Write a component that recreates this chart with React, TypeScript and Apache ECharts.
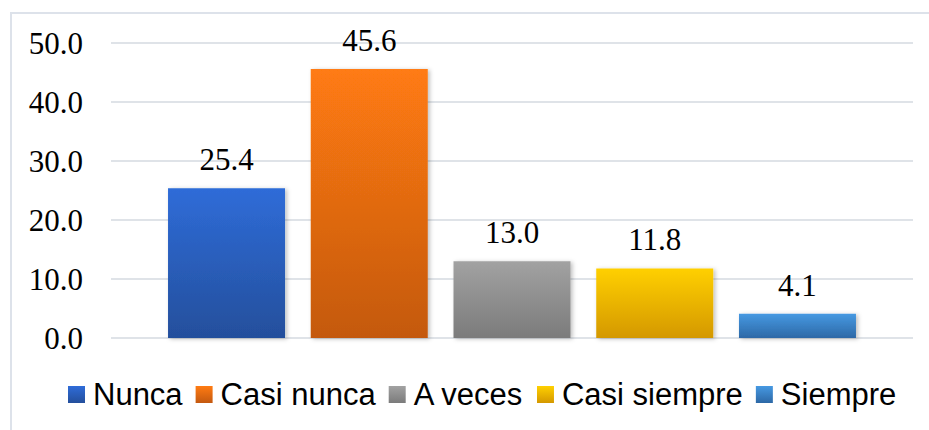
import React, { useEffect, useRef } from "react";
import * as echarts from "echarts";

const categories = [""];
const seriesNames = ["Nunca", "Casi nunca", "A veces", "Casi siempre", "Siempre"];
const seriesValues = [25.4, 45.6, 13.0, 11.8, 4.1];
const yTicks = [0, 10, 20, 30, 40, 50];
const topColors = ["#2f6cd8", "#ff7b12", "#a2a2a2", "#ffd000", "#4699e2"];
const bottomColors = ["#244f9c", "#c45910", "#7b7b7b", "#d49800", "#2d68a6"];

const grad = (i: number) =>
  new echarts.graphic.LinearGradient(0, 0, 0, 1, [
    { offset: 0, color: topColors[i] },
    { offset: 1, color: bottomColors[i] },
  ]);

export default function App() {
  const ref = useRef<HTMLDivElement>(null);
  useEffect(() => {
    document.body.style.margin = "0";
    const chart = echarts.init(ref.current!, null, { renderer: "svg" });
    chart.setOption({
      animation: false,
      backgroundColor: "#ffffff",
      graphic: [
        {
          type: "rect",
          shape: { x: 11, y: 13, width: 1000, height: 500 },
          style: { fill: "none", stroke: "#dde2ea", lineWidth: 2 },
          silent: true,
          z: -10,
        },
      ],
      grid: { left: 111, right: 16, top: 43, bottom: 92 },
      legend: {
        left: 63,
        top: 374,
        itemWidth: 17,
        itemHeight: 17,
        itemGap: 13,
        icon: "rect",
        textStyle: {
          fontFamily: "Liberation Sans, Arial, sans-serif",
          fontSize: 31,
          color: "#000",
          padding: [0, 0, 0, 3],
        },
        data: seriesNames,
      },
      xAxis: {
        type: "category",
        data: categories,
        axisLine: { show: false },
        axisTick: { show: false },
        axisLabel: { show: false },
      },
      yAxis: {
        type: "value",
        min: yTicks[0],
        max: yTicks[yTicks.length - 1],
        interval: 10,
        axisLine: { show: false },
        axisTick: { show: false },
        axisLabel: {
          margin: 28,
          fontFamily: "Liberation Serif, Times New Roman, serif",
          fontSize: 31,
          color: "#000",
          formatter: (v: number) => v.toFixed(1),
        },
        splitLine: { lineStyle: { color: "#dfe3e8", width: 2 } },
      },
      series: seriesNames.map((name, i) => ({
        name,
        type: "bar",
        data: [seriesValues[i]],
        barWidth: 117,
        barGap: "22%",
        itemStyle: {
          color: grad(i),
          shadowBlur: 4,
          shadowColor: "rgba(0,0,0,0.25)",
          shadowOffsetX: 2,
          shadowOffsetY: 1,
        },
        label: {
          show: true,
          position: "top",
          distance: 13,
          fontFamily: "Liberation Serif, Times New Roman, serif",
          fontSize: 31,
          color: "#000",
          formatter: (p: any) => Number(p.value).toFixed(1),
        },
      })),
    });
    return () => chart.dispose();
  }, []);
  return (
    <div
      ref={ref}
      style={{ position: "absolute", left: 0, top: 0, width: 929, height: 430 }}
    />
  );
}
